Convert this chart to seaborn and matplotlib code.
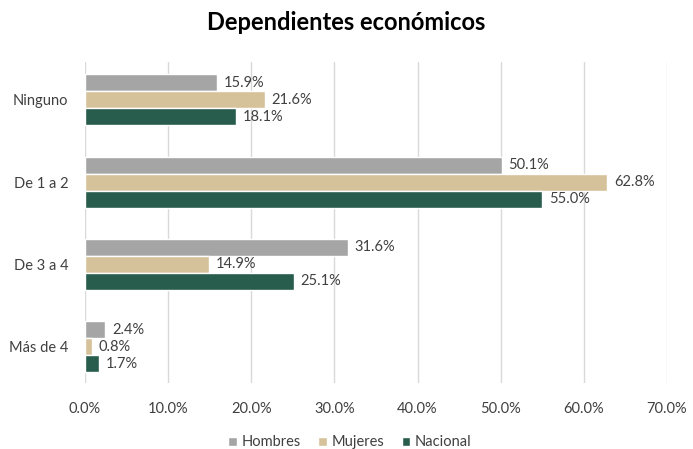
import numpy as np
import pandas as pd
import matplotlib.pyplot as plt
import seaborn as sns

categorias = ["Ninguno", "De 1 a 2", "De 3 a 4", "Más de 4"]
hombres = [15.9, 50.1, 31.6, 2.4]
mujeres = [21.6, 62.8, 14.9, 0.8]
nacional = [18.1, 55.0, 25.1, 1.7]
series = ["Hombres", "Mujeres", "Nacional"]
colores = ["#A5A5A5", "#D5C29A", "#285C4D"]

df = pd.DataFrame({
    "categoria": categorias * 3,
    "serie": np.repeat(series, len(categorias)),
    "valor": hombres + mujeres + nacional,
})

sns.set_style("white")
plt.rcParams['font.family'] = ['Lato', 'DejaVu Sans']

fig = plt.figure(figsize=(6.93, 4.49), dpi=100)
ax = fig.add_axes([0.1227, 0.147, 0.8398, 0.715])

sns.barplot(data=df, x="valor", y="categoria", hue="serie", order=categorias,
            hue_order=series, palette=colores, width=0.62, orient="h",
            saturation=1, ax=ax, legend=True)

for cont in ax.containers:
    ax.bar_label(cont, labels=[f"{v:.1f}%" for v in cont.datavalues],
                 padding=5, fontsize=10.5, color="#404040")

ax.set_xlim(0, 70)
ax.set_xticks(np.arange(0, 71, 10))
ax.set_xticklabels([f"{t:.1f}%" for t in np.arange(0, 71, 10)])
ax.set_ylim(3.44, -0.46)
ax.grid(axis="x", color="#D9D9D9", linewidth=1)
ax.set_axisbelow(True)
for s in ax.spines.values():
    s.set_visible(False)
ax.tick_params(axis="both", length=0, labelsize=10.5, labelcolor="#404040")
ax.tick_params(axis="x", pad=14)
ax.tick_params(axis="y", pad=12)
ax.set_xlabel("")
ax.set_ylabel("")

fig.suptitle("Dependientes económicos", y=0.975, fontsize=17, fontweight="bold",
             color="#000000")

ax.legend(loc="center", bbox_to_anchor=(0.455, -0.185), ncol=3, frameon=False,
          fontsize=10.5, handlelength=0.6, handleheight=0.6, handletextpad=0.3,
          columnspacing=1.2, labelcolor="#404040")

fig.savefig("out.png", dpi=100)
